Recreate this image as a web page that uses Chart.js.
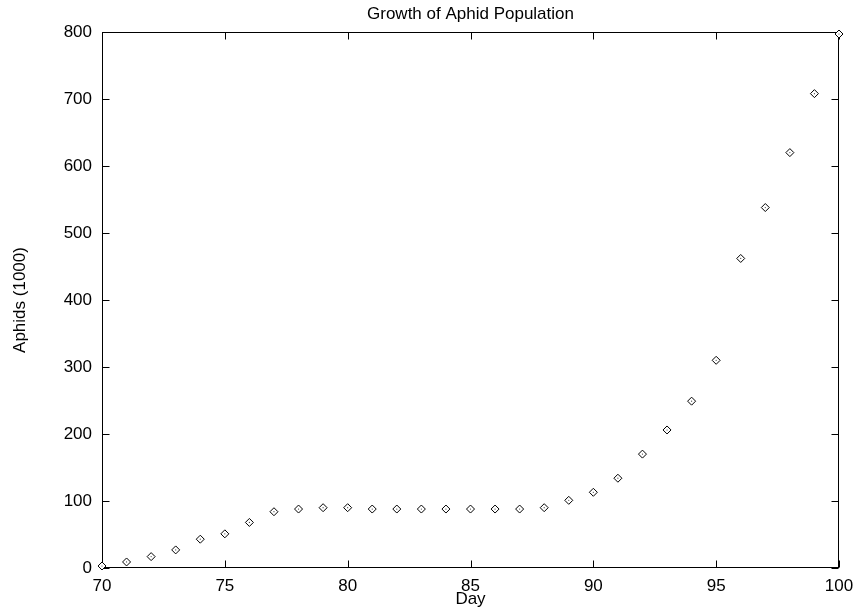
<!DOCTYPE html>
<html>
<head>
<meta charset="utf-8">
<script src="https://cdn.jsdelivr.net/npm/chart.js@4/dist/chart.umd.min.js"></script>
<style>
html,body{margin:0;padding:0;background:#fff;}
#wrap{width:855px;height:613px;}
</style>
</head>
<body>
<div id="wrap"><canvas id="c" width="855" height="613"></canvas></div>
<script>
const days = [70,71,72,73,74,75,76,77,78,79,80,81,82,83,84,85,86,87,88,89,90,91,92,93,94,95,96,97,98,99,100];
const aphids = [3,9,17,27,43,51,68,84,88,90,90,88,88,88,88,88,88,88,90,101,113,134,170,206,249,310,462,538,620,708,797];
const xTicks = [70,75,80,85,90,95,100];
const yTicks = [0,100,200,300,400,500,600,700,800];
const titleText = 'Growth of Aphid Population';
const xLabel = 'Day';
const yLabel = 'Aphids (1000)';

const FONT = '"Liberation Sans", Arial, Helvetica, sans-serif';
const pts = days.map((d,i)=>({x:d, y:aphids[i]}));

const frame = {
  id:'frame',
  beforeDatasetsDraw(chart){
    const {ctx, chartArea:a, scales:{x,y}} = chart;
    ctx.save();
    ctx.strokeStyle='#000';
    ctx.lineWidth=1;
    const L=Math.round(a.left)+0.5, R=Math.round(a.right)-0.5, T=Math.round(a.top)+0.5, B=Math.round(a.bottom)-0.5;
    ctx.strokeRect(L,T,R-L,B-T);
    ctx.beginPath();
    const tl=7;
    xTicks.forEach(v=>{const px=Math.round(x.getPixelForValue(v))+0.5; ctx.moveTo(px,B); ctx.lineTo(px,B-tl); ctx.moveTo(px,T); ctx.lineTo(px,T+tl);});
    yTicks.forEach(v=>{const py=Math.round(y.getPixelForValue(v))+0.5; ctx.moveTo(L,py); ctx.lineTo(L+tl,py); ctx.moveTo(R,py); ctx.lineTo(R-tl,py);});
    ctx.stroke();
    ctx.restore();
  }
};

new Chart(document.getElementById('c'), {
  type:'scatter',
  data:{
    datasets:[
      {data:pts, pointStyle:'rectRot', pointRadius:4, pointHoverRadius:4, borderColor:'#000', backgroundColor:'#fff', borderWidth:1, clip:false, order:2},
      {data:pts, pointStyle:'circle', pointRadius:0.6, pointHoverRadius:0.6, borderWidth:0, backgroundColor:'#444', clip:false, order:1}
    ]
  },
  options:{
    responsive:false,
    animation:false,
    devicePixelRatio:1,
    layout:{padding:{left:0,right:16,top:0,bottom:0}},
    plugins:{
      legend:{display:false},
      tooltip:{enabled:false},
      title:{display:true, text:titleText, fullSize:false, color:'#000', font:{family:FONT, size:17, weight:'normal'}, padding:{top:4,bottom:7.6}}
    },
    scales:{
      x:{
        type:'linear', min:70, max:100,
        afterFit(s){ s.height=45; s.paddingLeft=0; s.paddingRight=0; },
        afterBuildTicks(s){ s.ticks = xTicks.map(v=>({value:v})); },
        grid:{display:false, drawTicks:false},
        border:{display:false},
        ticks:{color:'#000', font:{family:FONT,size:17}, padding:8, maxRotation:0, autoSkip:false},
        title:{display:true, text:xLabel, color:'#000', font:{family:FONT,size:17}, padding:{top:0,bottom:3}}
      },
      y:{
        type:'linear', min:0, max:800,
        afterFit(s){ s.width=102; s.paddingTop=0; s.paddingBottom=0; },
        afterBuildTicks(s){ s.ticks = yTicks.map(v=>({value:v})); },
        grid:{display:false, drawTicks:false},
        border:{display:false},
        ticks:{color:'#000', font:{family:FONT,size:17}, padding:10, autoSkip:false},
        title:{display:true, text:yLabel, color:'#000', font:{family:FONT,size:17}, padding:{top:10,bottom:0}}
      }
    }
  },
  plugins:[frame]
});
</script>
</body>
</html>
